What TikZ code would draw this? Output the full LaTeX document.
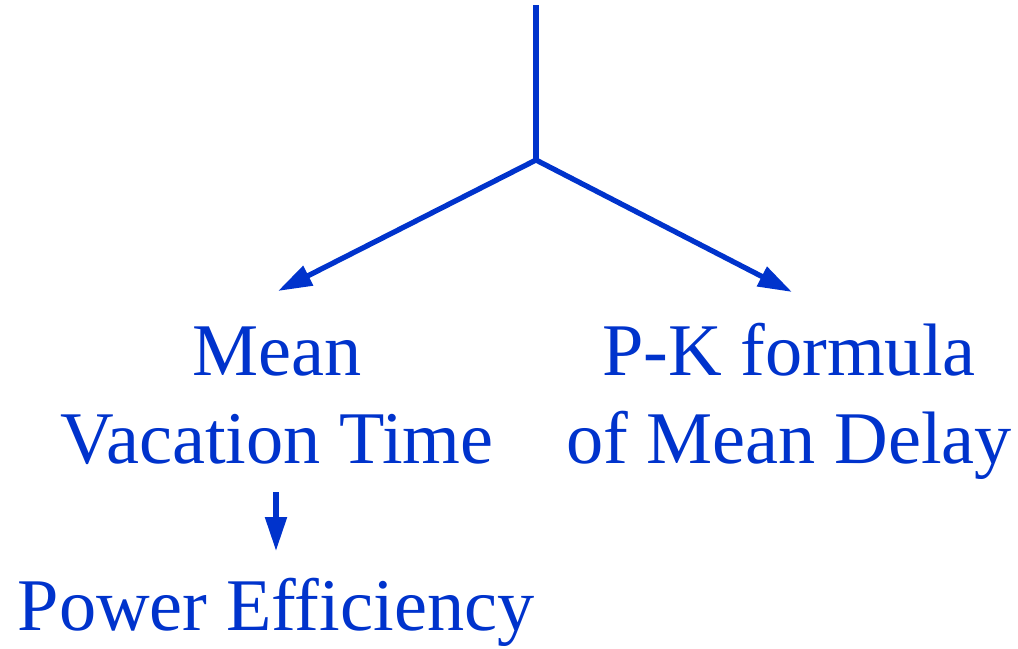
\documentclass[tikz,border=0pt]{standalone}
\usepackage{fontspec}
\setmainfont{Liberation Serif}
\usepackage{tikz}
\usetikzlibrary{arrows.meta,positioning}
\definecolor{treeblue}{RGB}{0,51,204}

\begin{document}
\begin{tikzpicture}[x=0.02cm, y=-0.02cm,
    branch/.style={line width=3pt, treeblue},
    tip/.style={-{Triangle[length=0.68cm, width=0.42cm]}},
    label/.style={inner sep=0pt, align=center, text=treeblue,
      font=\fontsize{42.3}{50}\selectfont}]
    \useasboundingbox (0,0) rectangle (1018,649);

    % Stem and junction
    \coordinate (top) at (536,5);
    \coordinate (fork) at (536,160);

    % Leaves
    \node[label, anchor=base] (mvt) at (277,463) {Mean\\Vacation Time};
    \node[label, anchor=base] (pk) at (789,463) {P-K formula\\of Mean Delay};
    \node[label, anchor=base] (power) at (276,630) {Power Efficiency};

    \coordinate (mvtin) at (278,291);
    \coordinate (pkin) at (792,292);
    \coordinate (powout) at (276,492);
    \coordinate (powin) at (276,551);

    \draw[branch] (top) -- (fork);
    \draw[branch, tip] (fork) -- (mvtin);
    \draw[branch, tip] (fork) -- (pkin);
    \draw[branch, tip] (powout) -- (powin);
\end{tikzpicture}
\end{document}
